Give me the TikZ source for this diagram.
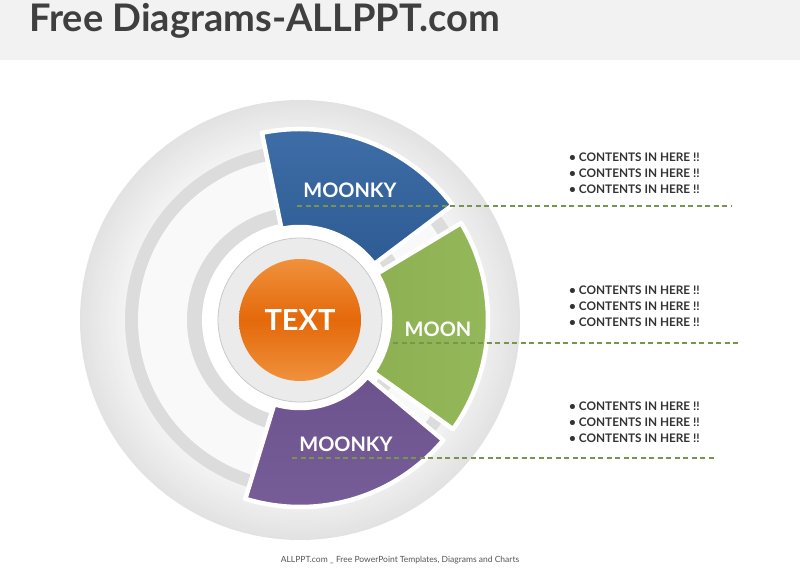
\documentclass[tikz,border=0pt]{standalone}
\usepackage{fontspec}
\setmainfont{Lato}
\definecolor{hdr}{HTML}{F2F2F2}
\definecolor{titlec}{HTML}{3F3F3F}
\definecolor{ringc}{HTML}{DCDCDC}
\definecolor{innerc}{HTML}{F9F9F9}
\definecolor{circg}{HTML}{EBEBEB}
\definecolor{circb}{HTML}{C9C9C9}
\definecolor{blueA}{HTML}{3F6FA9}
\definecolor{blueB}{HTML}{2E5B93}
\definecolor{greenA}{HTML}{8DB052}
\definecolor{greenB}{HTML}{94B95A}
\definecolor{purA}{HTML}{6C538D}
\definecolor{purB}{HTML}{785E99}
\definecolor{orA}{HTML}{F0913C}
\definecolor{orB}{HTML}{E4690A}
\definecolor{dashc}{HTML}{7A9450}
\definecolor{txtc}{HTML}{333333}
\definecolor{footc}{HTML}{555555}
\definecolor{discA}{HTML}{F3F3F3}
\definecolor{discB}{HTML}{E2E2E2}
\tikzset{
  segment/.style={draw=white, line width=4.5pt, line join=round},
  seglabel/.style={text=white, font=\fontsize{20}{22}\selectfont\bfseries, inner sep=0pt},
  dashline/.style={draw=dashc, line width=1.2pt, dash pattern=on 5pt off 3.5pt},
  content/.style={anchor=west, text=txtc, font=\fontsize{11.8}{13}\selectfont\bfseries, inner sep=0pt},
}
\begin{document}
\begin{tikzpicture}[x=1pt,y=1pt]
\useasboundingbox (0,0) rectangle (800,575);
\fill[white] (0,0) rectangle (800,575);
\fill[hdr] (0,515) rectangle (800,575);
\node[anchor=base west, inner sep=0pt, text=titlec, font=\fontsize{38}{40}\selectfont\bfseries] (title) at (29,543) {Free Diagrams-ALLPPT.com};

\begin{scope}[shift={(300,255)}]
  \foreach \r in {220,218,...,176}{
    \pgfmathtruncatemacro\t{(\r-176)/44*100}
    \fill[discB!\t!discA] (0,0) circle[radius=\r];
  }
  \fill[ringc] (0,0) circle[radius=175];
  \fill[innerc] (0,0) circle[radius=162];
  \fill[ringc] (0,0) circle[radius=113];
  \fill[white] (0,0) circle[radius=98];
  % blue segment
  \path[segment, top color=blueA, bottom color=blueB]
    (37:93) -- (37:191) arc[start angle=37, end angle=101.5, radius=191]
    -- (101.5:93) arc[start angle=101.5, end angle=37, radius=93] -- cycle;
  % green segment
  \path[segment, left color=greenA, right color=greenB]
    (-35.5:90) -- (-35.5:188) arc[start angle=-35.5, end angle=31, radius=188]
    -- (31:90) arc[start angle=31, end angle=-35.5, radius=90] -- cycle;
  % purple segment
  \path[segment, top color=purA, bottom color=purB]
    (-107:88) -- (-107:187) arc[start angle=-107, end angle=-40, radius=187]
    -- (-40:88) arc[start angle=-40, end angle=-107, radius=88] -- cycle;
  \fill[circg, draw=circb, line width=0.8pt] (0,0) circle[radius=82];
  \node[circle, minimum size=122pt, inner sep=0pt, top color=orA, bottom color=orA, middle color=orB,
        text=white, font=\fontsize{29}{32}\selectfont\bfseries] (center) at (0,0) {TEXT};
\end{scope}

\node[seglabel] (lab1) at (350,385) {MOONKY};
\node[seglabel] (lab2) at (438,246) {MOON};
\node[seglabel] (lab3) at (346,131) {MOONKY};

\coordinate (d1a) at (297,369); \coordinate (d1b) at (732,369);
\coordinate (d2a) at (393,232); \coordinate (d2b) at (738,232);
\coordinate (d3a) at (292,117); \coordinate (d3b) at (715,117);
\draw[dashline] (d1a) -- (d1b);
\draw[dashline] (d2a) -- (d2b);
\draw[dashline] (d3a) -- (d3b);

\node[content] (t11) at (569,418) {• CONTENTS IN HERE !!};
\node[content] (t12) at (569,402) {• CONTENTS IN HERE !!};
\node[content] (t13) at (569,386) {• CONTENTS IN HERE !!};
\node[content] (t21) at (569,285) {• CONTENTS IN HERE !!};
\node[content] (t22) at (569,269) {• CONTENTS IN HERE !!};
\node[content] (t23) at (569,253) {• CONTENTS IN HERE !!};
\node[content] (t31) at (569,169) {• CONTENTS IN HERE !!};
\node[content] (t32) at (569,153) {• CONTENTS IN HERE !!};
\node[content] (t33) at (569,137) {• CONTENTS IN HERE !!};

\node[text=footc, font=\fontsize{8.5}{10}\selectfont] (foot) at (400,15) {ALLPPT.com \_ Free PowerPoint Templates, Diagrams and Charts};
\end{tikzpicture}
\end{document}
